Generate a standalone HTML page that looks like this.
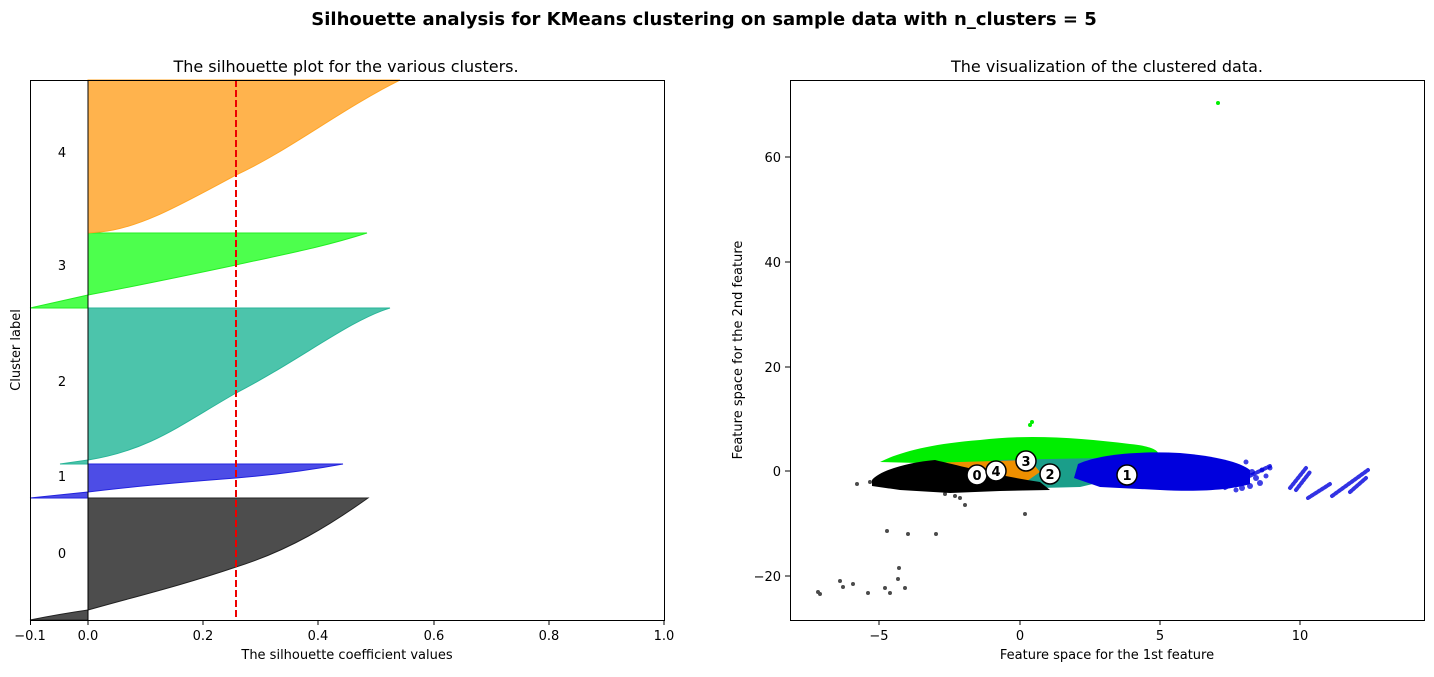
<!DOCTYPE html>
<html><head><meta charset="utf-8"><style>
body{margin:0;background:#fff;font-family:"Liberation Sans","DejaVu Sans",sans-serif}
</style></head><body>
<svg width="1434" height="672" xmlns="http://www.w3.org/2000/svg" font-family="DejaVu Sans, Liberation Sans, sans-serif">
<text x="704" y="25" text-anchor="middle" font-size="18" font-weight="bold">Silhouette analysis for KMeans clustering on sample data with n_clusters = 5</text>
<text x="346" y="72" text-anchor="middle" font-size="16">The silhouette plot for the various clusters.</text>
<g stroke-width="1">
<path fill="#4d4d4d" stroke="#222" d="M88,498 L368,498 C330,525 290,550 236,567 C180,586 130,598 88,610 C60,614 40,618 30,620 L88,620 Z"/>
<path fill="#4d4de6" stroke="#2222dd" d="M88,464 L343,464 C300,472 260,476 236,478 C170,483 120,488 88,492 L30,498 L88,498 Z"/>
<path fill="#4cc4ab" stroke="#2ab598" d="M88,308 L390,308 C350,320 300,360 236,393 C180,425 150,450 88,460 L60,464 L88,464 Z"/>
<path fill="#4dff4d" stroke="#22ee22" d="M88,233 L367,233 C320,248 280,255 236,265 C170,279 120,289 88,295 L30,308 L88,308 Z"/>
<path fill="#ffb34d" stroke="#ffa526" d="M88,80 L400,80 C340,110 290,150 236,175 C180,205 140,228 100,232 L88,233 Z"/>
</g>
<line x1="88" y1="80" x2="88" y2="620" stroke="#000" stroke-width="1"/>
<line x1="236" y1="80" x2="236" y2="620" stroke="#e00" stroke-width="2" stroke-dasharray="7,3"/>
<g font-size="13"><text x="62" y="157" text-anchor="middle">4</text><text x="62" y="270" text-anchor="middle">3</text><text x="62" y="386" text-anchor="middle">2</text><text x="62" y="481" text-anchor="middle">1</text><text x="62" y="558" text-anchor="middle">0</text></g>
<rect x="30.5" y="80.5" width="634" height="540" fill="none" stroke="#000"/>
<g stroke="#000"><line x1="30.5" y1="620" x2="30.5" y2="625"/><line x1="88" y1="620" x2="88" y2="625"/><line x1="203" y1="620" x2="203" y2="625"/><line x1="318" y1="620" x2="318" y2="625"/><line x1="434" y1="620" x2="434" y2="625"/><line x1="549" y1="620" x2="549" y2="625"/><line x1="664" y1="620" x2="664" y2="625"/></g>
<g font-size="13" text-anchor="middle"><text x="30" y="640">−0.1</text><text x="88" y="640">0.0</text><text x="203" y="640">0.2</text><text x="318" y="640">0.4</text><text x="434" y="640">0.6</text><text x="549" y="640">0.8</text><text x="664" y="640">1.0</text></g>
<text x="347" y="659" text-anchor="middle" font-size="13">The silhouette coefficient values</text>
<text transform="translate(20,350) rotate(-90)" text-anchor="middle" font-size="13">Cluster label</text>
<!-- RIGHT -->
<text x="1107" y="72" text-anchor="middle" font-size="16">The visualization of the clustered data.</text>
<g>
<path fill="#00ee00" d="M880,462 C900,452 930,444 980,440 C1030,434 1080,438 1130,444 C1150,446 1162,450 1158,458 L1100,462 L1020,464 L960,464 Z"/>
<path fill="#1a9e8a" d="M1000,460 L1100,458 L1110,480 L1080,487 L1040,488 L1010,482 Z"/>
<path fill="#ee8f00" d="M925,463 L1030,460 L1040,472 L1020,486 L960,488 L930,478 Z"/>
<path fill="#000" d="M872,480 C880,470 910,462 935,460 C960,466 1000,476 1040,482 L1050,490 L1000,491 L950,493 L900,490 L872,486 Z"/>
<path fill="#0000dd" d="M1078,464 C1100,454 1140,451 1180,453 C1215,456 1240,462 1250,470 L1250,484 C1230,490 1200,492 1160,490 L1100,487 L1074,478 Z"/>
</g>
<g fill="#0000dd" opacity="0.75">
<circle cx="1252" cy="472" r="3"/><circle cx="1256" cy="478" r="3"/><circle cx="1260" cy="483" r="3"/><circle cx="1250" cy="486" r="3"/><circle cx="1242" cy="488" r="3"/><circle cx="1262" cy="470" r="2.5"/><circle cx="1266" cy="476" r="2.5"/><circle cx="1270" cy="468" r="2.5"/><circle cx="1236" cy="490" r="2.5"/><circle cx="1246" cy="462" r="2.5"/><circle cx="1230" cy="484" r="3"/><circle cx="1222" cy="480" r="3"/>
</g>
<g stroke="#0000dd" stroke-width="4" stroke-linecap="round" opacity="0.8" stroke-dasharray="2,2">
<line x1="1225" y1="488" x2="1270" y2="466"/><line x1="1290" y1="488" x2="1306" y2="468"/><line x1="1296" y1="490" x2="1310" y2="472"/>
<line x1="1332" y1="496" x2="1368" y2="470"/><line x1="1350" y1="492" x2="1366" y2="478"/><line x1="1308" y1="498" x2="1330" y2="484"/>
</g>
<g fill="#000" opacity="0.7">
<circle cx="887" cy="531" r="2"/><circle cx="908" cy="534" r="2"/><circle cx="899" cy="568" r="2"/><circle cx="898" cy="579" r="2"/><circle cx="905" cy="588" r="2"/><circle cx="885" cy="588" r="2"/><circle cx="818" cy="592" r="2"/><circle cx="820" cy="594" r="2"/><circle cx="840" cy="581" r="2"/><circle cx="843" cy="587" r="2"/><circle cx="853" cy="584" r="2"/><circle cx="868" cy="593" r="2"/><circle cx="890" cy="593" r="2"/><circle cx="936" cy="534" r="2"/><circle cx="1025" cy="514" r="2"/><circle cx="965" cy="505" r="2"/><circle cx="870" cy="482" r="2"/><circle cx="857" cy="484" r="2"/><circle cx="960" cy="498" r="2"/><circle cx="955" cy="496" r="2"/><circle cx="945" cy="494" r="2"/>
</g>
<circle cx="1218" cy="103" r="2" fill="#00ee00"/><circle cx="1032" cy="422" r="2" fill="#00ee00"/><circle cx="1030" cy="425" r="2" fill="#00ee00"/>
<g stroke="#000" stroke-width="1.5" fill="#fff">
<circle cx="977" cy="475" r="10"/><circle cx="996" cy="471" r="10"/><circle cx="1026" cy="461" r="10"/><circle cx="1050" cy="474" r="10"/><circle cx="1127" cy="475" r="10"/>
</g>
<g font-size="13" font-weight="bold" text-anchor="middle"><text x="977" y="480">0</text><text x="996" y="476">4</text><text x="1026" y="466">3</text><text x="1050" y="479">2</text><text x="1127" y="480">1</text></g>
<rect x="790.5" y="80.5" width="634" height="540" fill="none" stroke="#000"/>
<g stroke="#000"><line x1="879" y1="620" x2="879" y2="625"/><line x1="1020" y1="620" x2="1020" y2="625"/><line x1="1160" y1="620" x2="1160" y2="625"/><line x1="1300" y1="620" x2="1300" y2="625"/>
<line x1="785" y1="157" x2="790" y2="157"/><line x1="785" y1="262" x2="790" y2="262"/><line x1="785" y1="367" x2="790" y2="367"/><line x1="785" y1="471" x2="790" y2="471"/><line x1="785" y1="576" x2="790" y2="576"/></g>
<g font-size="13" text-anchor="middle"><text x="879" y="640">−5</text><text x="1020" y="640">0</text><text x="1160" y="640">5</text><text x="1300" y="640">10</text></g>
<g font-size="13" text-anchor="end"><text x="781" y="162">60</text><text x="781" y="267">40</text><text x="781" y="372">20</text><text x="781" y="476">0</text><text x="781" y="581">−20</text></g>
<text x="1107" y="659" text-anchor="middle" font-size="13">Feature space for the 1st feature</text>
<text transform="translate(742,350) rotate(-90)" text-anchor="middle" font-size="13">Feature space for the 2nd feature</text>
</svg>
</body></html>
